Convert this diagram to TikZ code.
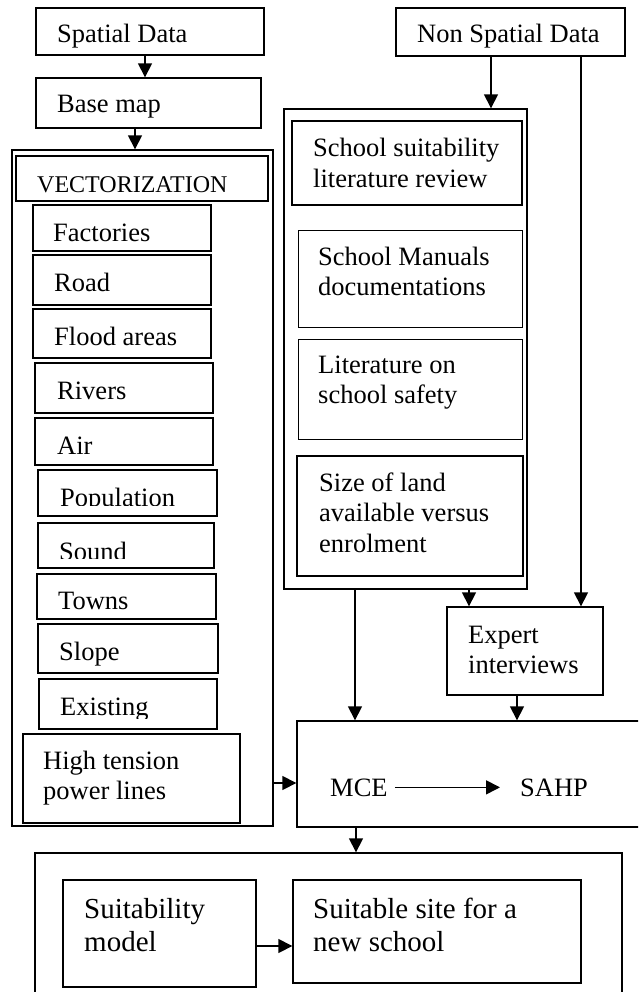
\documentclass[tikz,border=0pt]{standalone}
\usepackage{fontspec}
\setmainfont{Liberation Serif}
\usetikzlibrary{fit,arrows.meta,calc}
\begin{document}
\begin{tikzpicture}[x=1pt,y=-1pt,
  box/.style={draw, line width=1.4pt, inner sep=0pt},
  thinbox/.style={draw, line width=0.8pt, inner sep=0pt},
  txt/.style={inner sep=0pt, anchor=base west, align=left, font=\fontsize{26.5}{30.5}\selectfont},
  bigtxt/.style={txt, font=\fontsize{29}{33}\selectfont},
  captxt/.style={txt, font=\fontsize{24}{28}\selectfont},
  arr/.style={line width=1.6pt, -{Triangle[width=14pt,length=14pt]}}]
\useasboundingbox (0,0) rectangle (638,992);
\clip (0,0) rectangle (638,992);
% boxes
\node[box, fit={(36,8) (264,55)}] (sd) {};
\node[box, fit={(396,8) (625,56)}] (ns) {};
\node[box, fit={(36,78) (261,128)}] (bm) {};
\node[box, fit={(12,150) (273,826)}] (lo) {};
\node[box, fit={(16,156) (268,201)}] (vec) {};
\node[box, fit={(33,205) (211,251)}] (fac) {};
\node[box, fit={(33,255) (211,305)}] (road) {};
\node[box, fit={(33,309) (211,358)}] (flood) {};
\node[box, fit={(35,363) (213,413)}] (riv) {};
\node[box, fit={(35,418) (213,465)}] (air) {};
\node[box, fit={(38,470) (217,516)}] (pop) {};
\node[box, fit={(38,523) (214,568)}] (snd) {};
\node[box, fit={(37,574) (216,619)}] (town) {};
\node[box, fit={(38,624) (218,673)}] (slope) {};
\node[box, fit={(39,679) (217,729)}] (exist) {};
\node[box, fit={(23,734) (240,823)}] (ht) {};
\node[box, fit={(284,109) (527,589)}] (mid) {};
\node[box, fit={(292,121) (522,205)}] (ssl) {};
\node[thinbox, fit={(298,230) (522,327)}] (man) {};
\node[thinbox, fit={(298,339) (522,439)}] (lit) {};
\node[box, fit={(297,456) (523,576)}] (size) {};
\node[box, fit={(447,607) (603,695)}] (ex) {};
\node[box, fit={(297,721) (660,827)}] (mce) {};
\node[box, fit={(35,853) (622,1010)}] (bot) {};
\node[box, fit={(63,880) (256,987)}] (sm) {};
\node[box, fit={(293,880) (581,983)}] (ss) {};
% texts (multi-line nodes are anchored at the baseline of their last line)
\node[txt] (tsd) at (57,43) {Spatial Data};
\node[txt] (tns) at (417,43) {Non Spatial Data};
\node[txt] (tbm) at (57,113) {Base map};
\node[captxt] (tvec) at (37,193) {VECTORIZATION};
\node[txt] (tfac) at (53,241) {Factories};
\node[txt] (troad) at (54,291) {Road};
\node[txt] (tflood) at (54,345) {Flood areas};
\node[txt] (triv) at (57,399) {Rivers};
\node[txt] (tair) at (57,454) {Air};
\begin{scope}
\clip (38,470) rectangle (217,505);
\node[txt] (tpop) at (60,506) {Population};
\end{scope}
\begin{scope}
\clip (38,523) rectangle (214,558);
\node[txt] (tsnd) at (59,560) {Sound};
\end{scope}
\node[txt] (ttown) at (58,609) {Towns};
\node[txt] (tslope) at (59,660) {Slope};
\begin{scope}
\clip (39,679) rectangle (217,718);
\node[txt] (texist) at (60,715) {Existing};
\end{scope}
\node[txt] (tht) at (43,799.5) {High tension\\power lines};
\node[txt] (tssl) at (313,187.5) {School suitability\\literature review};
\node[txt] (tman) at (318,295.5) {School Manuals\\documentations};
\node[txt] (tlit) at (318,403.5) {Literature on\\school safety};
\node[txt] (tsize) at (319,552) {Size of land\\available versus\\enrolment};
\node[txt] (tex) at (468,673.5) {Expert\\interviews};
\node[txt] (mcet) at (330,796) {MCE};
\node[txt] (sahp) at (520,796) {SAHP};
\node[bigtxt] (tsm) at (84,951) {Suitability\\model};
\node[bigtxt] (tss) at (313,951) {Suitable site for a\\new school};
% connector guides
\coordinate (x1) at (145,0);
\coordinate (x2) at (135,0);
\coordinate (x3) at (491,0);
\coordinate (x4) at (581,0);
\coordinate (x5) at (355,0);
\coordinate (x6) at (469,0);
\coordinate (x7) at (517,0);
\coordinate (x8) at (356,0);
\coordinate (y1) at (0,783);
\coordinate (y2) at (0,946);
% connectors
\draw[arr] (sd.south -| x1) -- (bm.north -| x1);
\draw[arr] (bm.south -| x2) -- (lo.north -| x2);
\draw[arr] (ns.south -| x3) -- (mid.north -| x3);
\draw[arr] (ns.south -| x4) -- (ex.north -| x4);
\draw[arr] (mid.south -| x5) -- (mce.north -| x5);
\draw[arr] (mid.south -| x6) -- (ex.north -| x6);
\draw[arr] (ex.south -| x7) -- (mce.north -| x7);
\draw[arr] (lo.east |- y1) -- (mce.west |- y1);
\draw[arr] ($(mcet.east)+(7,0)$) -- ($(sahp.west)+(-20,0)$);
\draw[arr] (mce.south -| x8) -- (bot.north -| x8);
\draw[arr] (sm.east |- y2) -- (ss.west |- y2);
\end{tikzpicture}
\end{document}
